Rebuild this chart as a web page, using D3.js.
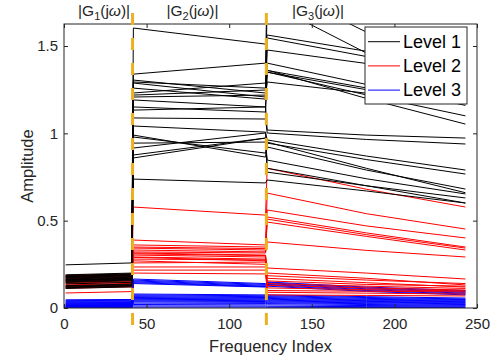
<!DOCTYPE html>
<html>
<head>
<meta charset="utf-8">
<script src="https://cdn.jsdelivr.net/npm/d3@7"></script>
<style>
  body { margin: 0; background: #fff; }
  svg { display: block; font-family: "Liberation Sans", Arial, Helvetica, sans-serif; }
</style>
</head>
<body>
<svg id="chart" width="498" height="362"></svg>
<script>
const knotX = [1, 41, 42, 122, 123, 183, 243];

// Level 1 curves: values at knotX
const level1 = [
  [0.247, 0.258, 1.603, 1.511, 1.563, 1.47, 1.40],
  [0.190, 0.200, 1.339, 1.402, 1.86, 1.58, 1.36],
  [0.186, 0.196, 1.305, 1.231, 1.75, 1.46, 1.25],
  [0.182, 0.192, 1.294, 1.259, 1.546, 1.44, 1.36],
  [0.178, 0.188, 1.288, 1.208, 1.477, 1.40, 1.33],
  [0.174, 0.184, 1.259, 1.196, 1.402, 1.28, 1.16],
  [0.170, 0.180, 1.231, 1.288, 1.362, 1.20, 1.053],
  [0.166, 0.176, 1.219, 1.248, 1.351, 1.22, 1.10],
  [0.162, 0.172, 1.208, 1.219, 1.294, 1.23, 1.17],
  [0.158, 0.168, 1.191, 1.151, 1.36, 1.26, 1.18],
  [0.154, 0.164, 1.151, 1.122, 1.35, 1.25, 1.17],
  [0.150, 0.160, 1.133, 1.151, 1.019, 0.99, 0.973],
  [0.146, 0.156, 1.088, 1.082, 1.002, 0.965, 0.939],
  [0.138, 0.147, 1.042, 1.007, 0.962, 0.87, 0.79],
  [0.128, 0.137, 0.990, 0.864, 0.944, 0.85, 0.767],
  [0.124, 0.133, 0.979, 0.887, 0.922, 0.79, 0.681],
  [0.120, 0.129, 0.944, 0.950, 0.847, 0.74, 0.653],
  [0.116, 0.125, 0.916, 1.002, 0.778, 0.70, 0.630],
  [0.112, 0.121, 0.876, 0.973, 0.80, 0.70, 0.601],
  [0.180, 0.189, 0.859, 0.973, 0.95, 0.80, 0.66],
  [0.160, 0.169, 0.738, 0.716, 0.733, 0.67, 0.601]
];

// Level 2 curves
const level2 = [
  [0.142, 0.151, 0.578, 0.532, 0.80, 0.68, 0.578],
  [0.132, 0.141, 0.389, 0.361, 0.658, 0.54, 0.452],
  [0.086, 0.094, 0.361, 0.349, 0.561, 0.47, 0.401],
  [0.118, 0.126, 0.349, 0.340, 0.521, 0.43, 0.349],
  [0.123, 0.131, 0.343, 0.332, 0.509, 0.42, 0.343],
  [0.128, 0.136, 0.332, 0.321, 0.492, 0.41, 0.332],
  [0.138, 0.146, 0.321, 0.315, 0.378, 0.33, 0.292],
  [0.148, 0.156, 0.315, 0.303, 0.229, 0.20, 0.166],
  [0.153, 0.161, 0.303, 0.292, 0.200, 0.17, 0.132],
  [0.158, 0.166, 0.292, 0.280, 0.170, 0.145, 0.120],
  [0.163, 0.171, 0.280, 0.275, 0.130, 0.115, 0.103],
  [0.168, 0.176, 0.258, 0.263, 0.100, 0.096, 0.092],
  [0.173, 0.181, 0.235, 0.235, 0.075, 0.072, 0.069],
  [0.178, 0.186, 0.217, 0.217, 0.140, 0.125, 0.112],
  [0.183, 0.191, 0.200, 0.195, 0.115, 0.105, 0.098],
  [0.113, 0.121, 0.290, 0.270, 0.155, 0.135, 0.125],
  [0.152, 0.160, 0.310, 0.300, 0.090, 0.085, 0.080],
  [0.187, 0.195, 0.270, 0.250, 0.185, 0.160, 0.140]
];

// Level 3 curves
const level3 = [
  [0.047, 0.049, 0.166, 0.140, 0.149, 0.120, 0.100],
  [0.042, 0.044, 0.160, 0.135, 0.145, 0.115, 0.095],
  [0.038, 0.040, 0.155, 0.130, 0.140, 0.110, 0.090],
  [0.034, 0.036, 0.150, 0.125, 0.135, 0.105, 0.085],
  [0.030, 0.032, 0.145, 0.122, 0.130, 0.100, 0.080],
  [0.027, 0.029, 0.140, 0.120, 0.125, 0.095, 0.075],
  [0.024, 0.026, 0.080, 0.075, 0.075, 0.065, 0.057],
  [0.021, 0.023, 0.075, 0.070, 0.070, 0.060, 0.052],
  [0.018, 0.020, 0.070, 0.065, 0.065, 0.055, 0.048],
  [0.016, 0.018, 0.065, 0.060, 0.060, 0.050, 0.044],
  [0.014, 0.016, 0.060, 0.056, 0.055, 0.046, 0.040],
  [0.012, 0.014, 0.055, 0.052, 0.050, 0.042, 0.036],
  [0.010, 0.012, 0.050, 0.047, 0.045, 0.038, 0.032],
  [0.008, 0.010, 0.045, 0.042, 0.040, 0.034, 0.028],
  [0.006, 0.008, 0.040, 0.037, 0.035, 0.030, 0.024],
  [0.005, 0.006, 0.035, 0.032, 0.030, 0.025, 0.020],
  [0.004, 0.005, 0.028, 0.026, 0.025, 0.020, 0.016],
  [0.003, 0.004, 0.020, 0.018, 0.018, 0.014, 0.012],
  [0.002, 0.003, 0.012, 0.011, 0.010, 0.008, 0.007],
  [0.001, 0.002, 0.005, 0.005, 0.004, 0.003, 0.003]
];

const levelNames = ['Level 1', 'Level 2', 'Level 3'];
const levelColors = ['#000000', '#ff0000', '#0000ff'];
const boundaries = [41.5, 122.5];
const sectionLabels = [
  { x: 8.5, sub: '1' },
  { x: 62, sub: '2' },
  { x: 138, sub: '3' }
];
const xTicks = [0, 50, 100, 150, 200, 250];
const yTicks = [0, 0.5, 1, 1.5];
const yTickLabels = ['0', '0.5', '1', '1.5'];

const axisColor = '#262626';
const margin = { left: 64, right: 21, top: 24, bottom: 54 };
const width = 498, height = 362;

const x = d3.scaleLinear().domain([0, 250]).range([margin.left, width - margin.right]);
const y = d3.scaleLinear().domain([0, 1.626]).range([height - margin.bottom, margin.top]);

const svg = d3.select('#chart');

svg.append('clipPath').attr('id', 'plot-clip')
  .append('rect')
  .attr('x', x(0)).attr('y', y(1.626))
  .attr('width', x(250) - x(0)).attr('height', y(0) - y(1.626));

const line = d3.line()
  .x((d, i) => x(knotX[i]))
  .y(d => y(d));

const plot = svg.append('g').attr('clip-path', 'url(#plot-clip)');

// draw level 3 first so level 1 ends on top
[level3, level2, level1].forEach((series, k) => {
  const color = levelColors[2 - k];
  plot.append('g')
    .selectAll('path')
    .data(series)
    .join('path')
    .attr('d', line)
    .attr('fill', 'none')
    .attr('stroke', color)
    .attr('stroke-width', 1);
});

// axes: inward ticks on all four sides
const tick = 4;
svg.append('g')
  .attr('transform', `translate(0,${y(0)})`)
  .call(d3.axisBottom(x).tickValues(xTicks).tickSizeInner(-tick).tickSizeOuter(0).tickPadding(10))
  .call(g => g.select('.domain').remove());

svg.append('g')
  .attr('transform', `translate(0,${y(1.626)})`)
  .call(d3.axisTop(x).tickValues(xTicks).tickSizeInner(-tick).tickSizeOuter(0).tickFormat(''))
  .call(g => g.select('.domain').remove());

svg.append('g')
  .attr('transform', `translate(${x(0)},0)`)
  .call(d3.axisLeft(y).tickValues(yTicks).tickSizeInner(-tick).tickSizeOuter(0).tickPadding(6)
    .tickFormat((d, i) => yTickLabels[i]))
  .call(g => g.select('.domain').remove());

svg.append('g')
  .attr('transform', `translate(${x(250)},0)`)
  .call(d3.axisRight(y).tickValues(yTicks).tickSizeInner(-tick).tickSizeOuter(0).tickFormat(''))
  .call(g => g.select('.domain').remove());

svg.selectAll('.tick line').attr('stroke', axisColor);
svg.selectAll('.tick text')
  .attr('fill', axisColor)
  .style('font-size', '15px')
  .style('font-family', '"Liberation Sans", Arial, sans-serif');

svg.append('rect')
  .attr('x', x(0)).attr('y', y(1.626))
  .attr('width', x(250) - x(0)).attr('height', y(0) - y(1.626))
  .attr('fill', 'none')
  .attr('stroke', axisColor)
  .attr('stroke-width', 1);

// section boundaries, not clipped
svg.append('g')
  .selectAll('line')
  .data(boundaries)
  .join('line')
  .attr('x1', d => x(d)).attr('x2', d => x(d))
  .attr('y1', y(1.689)).attr('y2', y(-0.1))
  .attr('stroke', '#EDB120')
  .attr('stroke-width', 3)
  .attr('stroke-dasharray', '12,13');

// section labels |G_k(jω)|
const lab = svg.append('g')
  .selectAll('text')
  .data(sectionLabels)
  .join('text')
  .attr('x', d => x(d.x))
  .attr('y', 16)
  .attr('fill', axisColor)
  .style('font-size', '15.5px');
lab.append('tspan').text('|G');
lab.append('tspan').attr('dy', 4).style('font-size', '11px').text(d => d.sub);
lab.append('tspan').attr('dy', -4).text('(j');
lab.append('tspan').style('font-style', 'italic').text('ω');
lab.append('tspan').text(')|');

// axis titles
svg.append('text')
  .attr('x', (x(0) + x(250)) / 2)
  .attr('y', 352)
  .attr('text-anchor', 'middle')
  .attr('fill', axisColor)
  .style('font-size', '16.5px')
  .text('Frequency Index');

svg.append('text')
  .attr('transform', `translate(33,${(y(0) + y(1.626)) / 2}) rotate(-90)`)
  .attr('text-anchor', 'middle')
  .attr('fill', axisColor)
  .style('font-size', '16.5px')
  .text('Amplitude');

// legend
const legend = svg.append('g').attr('transform', 'translate(365,27)');
legend.append('rect')
  .attr('width', 102).attr('height', 77)
  .attr('fill', '#fff')
  .attr('stroke', axisColor)
  .attr('stroke-width', 1);

const item = legend.selectAll('g.item')
  .data(levelNames)
  .join('g')
  .attr('class', 'item')
  .attr('transform', (d, i) => `translate(0,${14.7 + i * 24.2})`);

item.append('line')
  .attr('x1', 3).attr('x2', 35)
  .attr('stroke', (d, i) => levelColors[i])
  .attr('stroke-width', 1);

item.append('text')
  .attr('x', 38)
  .attr('dy', '0.35em')
  .attr('fill', '#000')
  .style('font-size', '18px')
  .text(d => d);
</script>
</body>
</html>
